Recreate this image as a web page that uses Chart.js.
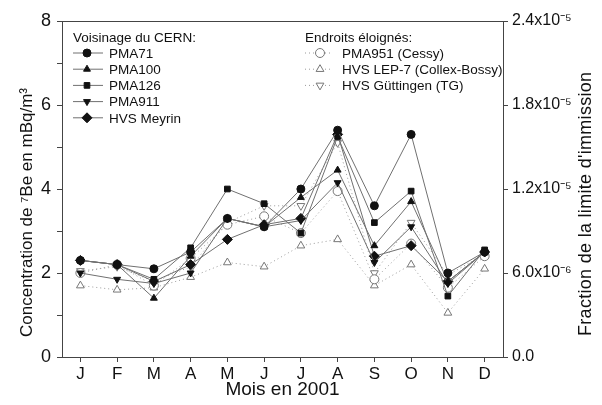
<!DOCTYPE html>
<html lang="fr">
<head>
<meta charset="utf-8">
<script src="https://cdn.jsdelivr.net/npm/chart.js@4.4.1/dist/chart.umd.min.js"></script>
<style>
  html, body { margin: 0; padding: 0; background: #fff; }
  #cadre { width: 602px; height: 405px; }
</style>
</head>
<body>
<div id="cadre"><canvas id="graficoBe7"></canvas></div>
<script>
// Mois de l'année 2001
const mois = ["J", "F", "M", "A", "M", "J", "J", "A", "S", "O", "N", "D"];

// Voisinage du CERN (mBq/m3)
const pma71     = [2.3, 2.2, 2.1, 2.5, 3.3, 3.1, 4.0, 5.4, 3.6, 5.3, 2.0, 2.5];
const pma100    = [2.3, 2.2, 1.4, 2.4, 3.3, 3.1, 3.8, 4.45, 2.65, 3.7, 1.8, 2.5];
const pma126    = [2.3, 2.2, 1.85, 2.6, 4.0, 3.65, 2.95, 5.25, 3.2, 3.95, 1.45, 2.55];
const pma911    = [2.0, 1.85, 1.75, 2.0, 3.3, 3.1, 3.25, 4.15, 2.25, 3.1, 1.75, 2.5];
const hvsMeyrin = [2.3, 2.2, 1.8, 2.2, 2.8, 3.15, 3.3, 5.3, 2.4, 2.65, 1.8, 2.5];

// Endroits éloignés (mBq/m3)
const pma951       = [2.0, 2.2, 1.7, 2.35, 3.15, 3.35, 2.95, 3.95, 1.85, 2.7, 1.65, 2.4];
const hvsLep7      = [1.7, 1.6, 1.65, 1.9, 2.25, 2.15, 2.65, 2.8, 1.7, 2.2, 1.05, 2.1];
const hvsGuttingen = [2.05, 2.15, 1.8, 2.15, 3.2, 3.6, 3.6, 5.1, 2.0, 3.2, 1.95, 2.45];

// Étiquettes de l'axe de droite (fraction de la limite)
const etiquettesDroite = ["0.0", "6.0x10⁻⁶", "1.2x10⁻⁵", "1.8x10⁻⁵", "2.4x10⁻⁵"];

const police = "'Liberation Sans', Arial, sans-serif";

function serieCern(label, data, style, rotation) {
  return {
    label: label, data: data, groupe: 0,
    borderColor: "#707070", borderWidth: 1,
    pointStyle: style, pointRotation: rotation || 0,
    pointRadius: style === "rectRot" ? 5 : 4,
    pointBackgroundColor: "#111", pointBorderColor: "#111", pointBorderWidth: 1,
    tension: 0
  };
}

function serieLoin(label, data, style, rotation) {
  return {
    label: label, data: data, groupe: 1,
    borderColor: "#9a9a9a", borderWidth: 1, borderDash: [1, 3],
    pointStyle: style, pointRotation: rotation || 0, pointRadius: 4.5,
    pointBackgroundColor: "#fff", pointBorderColor: "#777", pointBorderWidth: 1,
    tension: 0
  };
}

// Titre vertical lu de bas en haut
function titreVertical(ctx, texte, x, yBas, taille, espacement) {
  ctx.save();
  ctx.translate(x, yBas);
  ctx.rotate(-Math.PI / 2);
  ctx.font = taille + "px " + police;
  ctx.letterSpacing = espacement + "px";
  ctx.fillStyle = "#111";
  ctx.textAlign = "left";
  ctx.textBaseline = "middle";
  ctx.fillText(texte, 0, 0);
  ctx.restore();
}

// Légende en deux groupes + cadre + titres des axes verticaux
const legendeGroupes = {
  id: "legendeGroupes",
  afterDraw(chart) {
    const ctx = chart.ctx;
    const area = chart.chartArea;
    ctx.save();
    // bord supérieur du cadre
    ctx.strokeStyle = "#444";
    ctx.lineWidth = 1;
    ctx.beginPath();
    ctx.moveTo(area.left, area.top + 0.5);
    ctx.lineTo(area.right, area.top + 0.5);
    ctx.stroke();

    titreVertical(ctx, "Concentration de ⁷Be en mBq/m³", 27, 337, 17, 0);
    titreVertical(ctx, "Fraction de la limite d'immission", 586, 336, 18, 0.3);

    const blocs = [
      { titre: "Voisinage du CERN:", x0: 73, x1: 103, xm: 87, xt: 109 },
      { titre: "Endroits éloignés:", x0: 305, x1: 332, xm: 320, xt: 342 }
    ];
    ctx.font = "13.5px " + police;
    ctx.textBaseline = "middle";
    ctx.fillStyle = "#111";
    blocs.forEach((b, g) => {
      ctx.fillText(b.titre, b.x0, 38);
      let rang = 0;
      chart.data.datasets.forEach((ds) => {
        if (ds.groupe !== g) return;
        const y = 53 + rang * 16.2;
        ctx.save();
        ctx.strokeStyle = ds.borderColor;
        ctx.lineWidth = ds.borderWidth;
        ctx.setLineDash(ds.borderDash || []);
        ctx.beginPath();
        ctx.moveTo(b.x0, y);
        ctx.lineTo(b.x1, y);
        ctx.stroke();
        ctx.setLineDash([]);
        ctx.fillStyle = ds.pointBackgroundColor;
        ctx.strokeStyle = ds.pointBorderColor;
        ctx.lineWidth = ds.pointBorderWidth;
        Chart.helpers.drawPoint(ctx, {
          pointStyle: ds.pointStyle, rotation: ds.pointRotation,
          radius: ds.pointRadius, borderWidth: ds.pointBorderWidth
        }, b.xm, y);
        ctx.restore();
        ctx.fillStyle = "#111";
        ctx.fillText(ds.label, b.xt, y + 1);
        rang++;
      });
    });
    ctx.restore();
  }
};

const ctx = document.getElementById("graficoBe7").getContext("2d");
new Chart(ctx, {
  type: "line",
  data: {
    labels: mois,
    datasets: [
      serieCern("PMA71", pma71, "circle"),
      serieCern("PMA100", pma100, "triangle"),
      serieCern("PMA126", pma126, "rect"),
      serieCern("PMA911", pma911, "triangle", 180),
      serieCern("HVS Meyrin", hvsMeyrin, "rectRot"),
      serieLoin("PMA951 (Cessy)", pma951, "circle"),
      serieLoin("HVS LEP-7 (Collex-Bossy)", hvsLep7, "triangle"),
      serieLoin("HVS Güttingen (TG)", hvsGuttingen, "triangle", 180)
    ]
  },
  options: {
    responsive: true,
    maintainAspectRatio: false,
    animation: false,
    layout: { padding: { top: 21, left: 0, right: 0, bottom: 0 } },
    plugins: {
      legend: { display: false },
      tooltip: { enabled: false }
    },
    scales: {
      x: {
        offset: true,
        afterFit: (s) => { s.height = 48; },
        grid: { drawOnChartArea: false, drawTicks: true, tickLength: 5, color: "#444" },
        border: { color: "#444" },
        ticks: { color: "#111", font: { family: police, size: 17 }, padding: 2, maxRotation: 0 },
        title: { display: true, text: "Mois en 2001", color: "#111",
                 font: { family: police, size: 19 }, padding: { top: 0, bottom: 4 } }
      },
      y: {
        position: "left",
        min: 0, max: 8,
        afterFit: (s) => { s.width = 62; },
        grid: { drawOnChartArea: false, drawTicks: true, tickLength: 5, color: "#444" },
        border: { color: "#444" },
        ticks: {
          stepSize: 1, color: "#111", padding: 6,
          font: { family: police, size: 18 },
          callback: (v) => (v % 2 === 0 ? v : "")
        }
      },
      y2: {
        position: "right",
        min: 0, max: 2.4e-5,
        afterFit: (s) => { s.width = 99; },
        grid: { drawOnChartArea: false, drawTicks: true, tickLength: 5, color: "#444" },
        border: { color: "#444" },
        ticks: {
          stepSize: 6e-6, color: "#111", padding: 4,
          font: { family: police, size: 16 },
          callback: (v, i) => etiquettesDroite[i]
        }
      }
    }
  },
  plugins: [legendeGroupes]
});
</script>
</body>
</html>
